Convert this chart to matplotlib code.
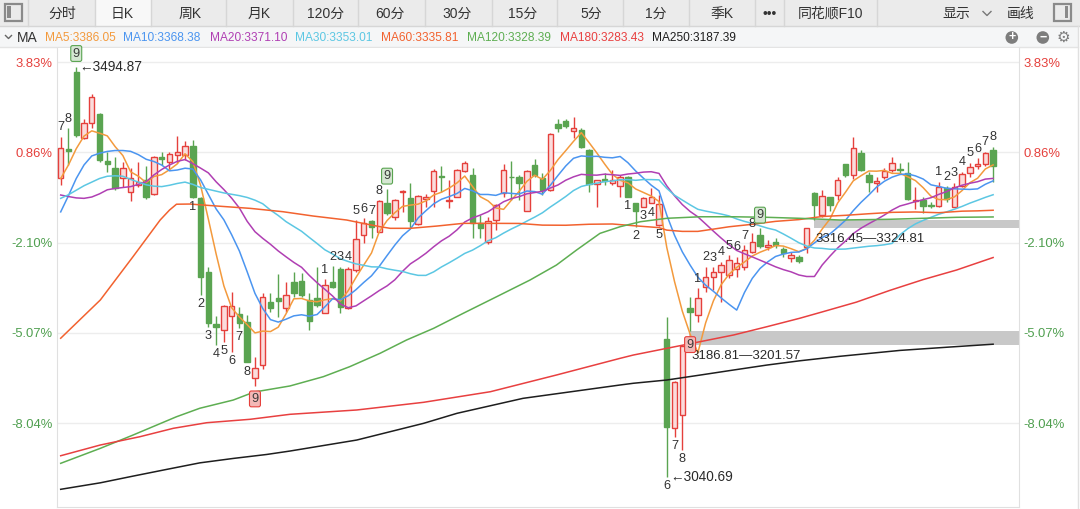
import matplotlib
matplotlib.use("Agg")
import matplotlib.pyplot as plt
from matplotlib.patches import Rectangle, Circle

plt.rcParams['font.family'] = ['Liberation Sans', 'Noto Sans CJK SC', 'DejaVu Sans']

# ---- daily candles ----
opens = [3371.2, 3403.3, 3489.5, 3415.5, 3432.1, 3442.4, 3390.7, 3382.3, 3371.2, 3355.7,
         3363.8, 3369.3, 3353.5, 3395.1, 3389.6, 3397.0, 3397.0, 3407.0, 3349.4, 3267.7,
         3209.8, 3203.1, 3218.6, 3220.5, 3212.3, 3149.6, 3164.3, 3234.5, 3238.9, 3227.1,
         3256.0, 3257.4, 3236.4, 3238.2, 3222.3, 3256.6, 3270.4, 3227.1, 3269.6, 3308.4,
         3323.9, 3312.0, 3343.5, 3328.0, 3355.7, 3349.7, 3320.6, 3348.3, 3357.5, 3374.1,
         3346.0, 3350.8, 3379.3, 3374.9, 3321.3, 3300.3, 3325.0, 3354.6, 3373.0, 3373.0,
         3335.3, 3385.9, 3371.2, 3358.2, 3431.0, 3434.7, 3423.9, 3424.7, 3402.6, 3364.9,
         3370.1, 3365.7, 3362.7, 3373.0, 3343.5, 3339.7, 3344.2, 3319.4, 3193.1, 3094.2,
         3108.9, 3227.8, 3219.7, 3251.1, 3261.5, 3267.7, 3264.1, 3270.7, 3273.2, 3289.9,
         3308.4, 3294.7, 3301.0, 3292.5, 3282.6, 3284.3, 3294.7, 3354.6, 3330.5, 3350.1,
         3352.7, 3386.7, 3374.9, 3398.9, 3374.9, 3365.7, 3372.3, 3380.4, 3381.2, 3376.7,
         3346.0, 3347.2, 3341.6, 3340.5, 3360.1, 3339.7, 3363.0, 3377.4, 3385.2, 3387.0,
         3402.6]
highs = [3417.3, 3426.6, 3494.87, 3436.9, 3464.3, 3443.5, 3400.7, 3395.1, 3389.6, 3382.3,
         3389.6, 3384.8, 3395.9, 3400.7, 3400.7, 3418.1, 3412.5, 3413.6, 3350.5, 3272.9,
         3218.6, 3230.5, 3245.5, 3228.3, 3219.7, 3172.9, 3244.4, 3244.1, 3265.2, 3256.6,
         3267.7, 3265.9, 3244.1, 3273.2, 3259.3, 3274.0, 3273.2, 3273.2, 3325.0, 3326.9,
         3324.5, 3347.2, 3359.0, 3348.3, 3358.2, 3365.7, 3352.7, 3353.5, 3381.2, 3384.8,
         3369.3, 3381.5, 3390.4, 3382.9, 3330.5, 3328.6, 3342.7, 3387.0, 3390.4, 3374.9,
         3380.4, 3392.2, 3376.7, 3421.4, 3436.6, 3436.6, 3439.4, 3426.6, 3403.7, 3369.8,
         3376.7, 3380.4, 3374.9, 3374.0, 3343.8, 3350.5, 3360.1, 3352.7, 3217.2, 3146.6,
         3186.81, 3240.0, 3249.3, 3273.2, 3272.6, 3278.8, 3286.2, 3284.3, 3297.3, 3310.3,
         3315.8, 3302.8, 3305.0, 3295.4, 3289.9, 3286.2, 3316.45, 3356.4, 3358.2, 3350.5,
         3372.3, 3387.0, 3417.3, 3402.6, 3378.5, 3373.0, 3382.3, 3394.5, 3387.8, 3389.6,
         3361.9, 3350.8, 3345.3, 3367.4, 3362.7, 3366.3, 3378.5, 3388.5, 3393.4, 3400.7,
         3406.2]
lows = [3363.8, 3385.9, 3417.3, 3414.7, 3426.6, 3389.3, 3378.5, 3358.2, 3361.9, 3346.4,
        3361.9, 3347.9, 3352.7, 3385.9, 3380.4, 3387.8, 3391.5, 3349.4, 3241.9, 3206.4,
        3186.5, 3190.2, 3178.7, 3205.7, 3167.6, 3141.4, 3159.6, 3223.4, 3217.5, 3223.4,
        3240.0, 3239.7, 3203.1, 3228.9, 3221.6, 3249.3, 3221.6, 3226.4, 3267.7, 3299.2,
        3304.7, 3311.7, 3330.5, 3325.0, 3334.2, 3315.8, 3319.4, 3339.1, 3339.1, 3356.4,
        3338.0, 3350.5, 3378.2, 3304.7, 3304.7, 3298.4, 3313.9, 3350.8, 3347.2, 3347.2,
        3334.9, 3373.0, 3352.7, 3357.1, 3422.8, 3427.3, 3415.5, 3404.4, 3356.4, 3339.7,
        3363.8, 3363.8, 3350.8, 3350.5, 3317.6, 3339.4, 3343.5, 3318.9, 3040.69, 3084.9,
        3070.2, 3201.57, 3211.6, 3245.5, 3247.4, 3234.5, 3260.4, 3262.2, 3269.6, 3288.1,
        3293.6, 3291.8, 3294.0, 3284.3, 3278.8, 3277.0, 3288.1, 3324.81, 3328.6, 3335.3,
        3347.2, 3373.0, 3370.1, 3379.6, 3356.4, 3356.4, 3370.1, 3378.5, 3376.7, 3347.2,
        3336.9, 3333.1, 3338.0, 3339.7, 3345.3, 3339.4, 3361.9, 3372.3, 3381.2, 3384.8,
        3367.4]
closes = [3404.4, 3401.8, 3419.2, 3432.1, 3461.6, 3391.5, 3386.7, 3360.1, 3382.3, 3371.2,
          3367.4, 3350.8, 3394.5, 3392.6, 3398.1, 3400.0, 3407.0, 3350.8, 3262.2, 3210.5,
          3206.8, 3229.7, 3229.7, 3211.2, 3168.0, 3160.7, 3240.0, 3227.1, 3235.6, 3241.9,
          3243.8, 3241.9, 3213.4, 3230.8, 3253.0, 3250.4, 3228.9, 3270.4, 3303.6, 3322.0,
          3317.6, 3346.4, 3332.4, 3347.2, 3357.1, 3324.2, 3351.9, 3350.8, 3379.3, 3373.0,
          3347.2, 3380.4, 3388.5, 3321.3, 3316.5, 3324.2, 3341.6, 3380.4, 3372.3, 3365.7,
          3379.6, 3374.9, 3358.2, 3420.3, 3426.6, 3429.5, 3426.6, 3406.2, 3364.9, 3369.3,
          3368.5, 3369.3, 3373.0, 3350.8, 3335.3, 3349.0, 3350.1, 3342.4, 3096.0, 3145.8,
          3185.5, 3223.4, 3238.2, 3262.2, 3267.7, 3275.1, 3280.7, 3277.0, 3291.8, 3301.0,
          3296.2, 3297.3, 3297.3, 3288.8, 3286.2, 3279.9, 3315.8, 3341.6, 3351.6, 3341.6,
          3369.3, 3374.9, 3404.4, 3380.4, 3367.4, 3368.2, 3379.6, 3387.8, 3380.4, 3348.3,
          3347.2, 3340.5, 3340.5, 3361.9, 3347.9, 3361.9, 3376.0, 3384.0, 3386.7, 3399.6,
          3384.8]

# ---- moving average lines ----
ma5_days = list(range(121))
ma5_vals = [3371.0, 3386.0, 3404.0, 3418.0, 3423.8, 3421.2, 3418.2, 3406.4, 3396.4, 3378.4,
            3373.5, 3366.4, 3373.2, 3375.3, 3380.7, 3387.2, 3398.4, 3389.7, 3363.6, 3326.1,
            3287.5, 3252.0, 3227.8, 3217.6, 3209.1, 3199.9, 3201.9, 3201.4, 3206.3, 3221.1,
            3237.7, 3238.1, 3235.3, 3234.4, 3236.6, 3237.9, 3235.3, 3246.7, 3261.3, 3275.1,
            3288.5, 3312.0, 3324.4, 3333.1, 3340.1, 3341.5, 3342.6, 3346.2, 3352.7, 3355.8,
            3360.4, 3366.1, 3373.7, 3362.1, 3350.8, 3346.2, 3338.4, 3336.8, 3347.0, 3356.8,
            3367.9, 3374.6, 3370.1, 3379.7, 3391.9, 3401.9, 3412.2, 3421.8, 3410.8, 3399.3,
            3387.1, 3375.6, 3369.0, 3366.2, 3359.4, 3355.5, 3351.6, 3345.5, 3294.6, 3256.7,
            3224.0, 3198.6, 3177.8, 3211.0, 3235.4, 3253.3, 3264.8, 3272.5, 3278.5, 3285.1,
            3289.3, 3292.7, 3296.7, 3296.1, 3293.2, 3289.9, 3293.6, 3302.5, 3315.0, 3326.1,
            3344.0, 3355.8, 3368.4, 3374.1, 3379.3, 3379.1, 3380.0, 3376.7, 3376.7, 3372.9,
            3368.7, 3360.8, 3351.4, 3347.7, 3347.6, 3350.5, 3357.6, 3366.3, 3371.3, 3381.6,
            3386.05]
ma10_days = list(range(121))
ma10_vals = [3334.0, 3352.0, 3371.0, 3386.0, 3396.0, 3399.0, 3401.0, 3402.0, 3402.0, 3401.1,
             3397.4, 3392.3, 3389.8, 3385.9, 3379.5, 3380.4, 3382.4, 3381.5, 3369.5, 3353.4,
             3337.3, 3325.2, 3308.7, 3290.6, 3267.6, 3243.7, 3227.0, 3214.6, 3211.9, 3215.1,
             3218.8, 3220.0, 3218.4, 3220.3, 3228.8, 3237.8, 3236.7, 3241.0, 3247.8, 3255.8,
             3263.2, 3273.7, 3285.6, 3297.2, 3307.6, 3315.0, 3327.3, 3335.3, 3342.9, 3348.0,
             3351.0, 3354.4, 3360.0, 3357.4, 3353.3, 3353.3, 3352.3, 3355.2, 3354.5, 3353.8,
             3357.1, 3356.5, 3353.5, 3363.4, 3374.4, 3384.9, 3393.4, 3396.0, 3395.3, 3395.6,
             3394.5, 3393.9, 3395.4, 3388.5, 3379.3, 3371.3, 3363.6, 3357.3, 3330.4, 3308.0,
             3289.7, 3275.1, 3261.7, 3252.8, 3246.0, 3238.6, 3231.7, 3225.2, 3244.7, 3260.3,
             3271.3, 3278.7, 3284.6, 3287.3, 3289.1, 3289.6, 3293.1, 3299.6, 3305.6, 3309.6,
             3316.9, 3324.7, 3335.4, 3344.6, 3352.7, 3361.5, 3367.9, 3372.5, 3375.4, 3376.1,
             3373.9, 3370.4, 3364.0, 3362.2, 3360.2, 3359.6, 3359.2, 3358.9, 3359.5, 3364.6,
             3368.38]
ma20_days = list(range(121))
ma20_vals = [3352.7, 3351.0, 3349.5, 3349.0, 3350.5, 3354.0, 3358.5, 3360.0, 3361.0, 3362.0,
             3364.5, 3367.4, 3375.0, 3381.0, 3386.0, 3390.0, 3392.0, 3387.5, 3382.5, 3377.25,
             3367.35, 3358.75, 3349.25, 3338.25, 3323.55, 3312.05, 3304.7, 3298.05, 3290.7, 3284.25,
             3278.05, 3272.6, 3263.55, 3255.45, 3248.2, 3240.75, 3231.85, 3227.8, 3229.85, 3235.45,
             3241.0, 3246.85, 3252.0, 3258.75, 3268.2, 3276.4, 3282.0, 3288.15, 3295.35, 3301.9,
             3307.1, 3314.05, 3322.8, 3327.3, 3330.45, 3334.15, 3339.8, 3345.25, 3348.7, 3350.9,
             3354.05, 3355.45, 3356.75, 3360.4, 3363.85, 3369.1, 3372.85, 3375.6, 3374.9, 3374.7,
             3375.8, 3375.2, 3374.45, 3375.95, 3376.85, 3378.1, 3378.5, 3376.65, 3362.85, 3351.8,
             3342.1, 3334.5, 3328.55, 3320.65, 3312.65, 3304.95, 3297.65, 3291.25, 3287.55, 3284.15,
             3280.5, 3276.9, 3273.15, 3270.05, 3267.55, 3264.1, 3262.4, 3262.4, 3275.15, 3284.95,
             3294.1, 3301.7, 3310.0, 3315.95, 3320.9, 3325.55, 3330.5, 3336.05, 3340.5, 3342.85,
             3345.4, 3347.55, 3349.7, 3353.4, 3356.45, 3360.55, 3363.55, 3365.7, 3367.45, 3370.35,
             3371.10]
ma30_days = list(range(121))
ma30_vals = [3349.0, 3353.0, 3358.0, 3363.0, 3367.0, 3371.0, 3373.5, 3374.0, 3373.5, 3370.0,
             3367.0, 3364.0, 3362.5, 3362.0, 3363.5, 3365.5, 3367.0, 3364.5, 3361.0, 3359.0,
             3357.0, 3355.0, 3353.5, 3352.0, 3350.0, 3347.0, 3343.0, 3336.0, 3330.0, 3323.2,
             3317.83, 3312.5, 3305.63, 3298.93, 3291.97, 3287.3, 3282.03, 3279.03, 3276.4, 3274.77,
             3273.1, 3272.97, 3270.9, 3269.37, 3268.0, 3265.5, 3263.67, 3263.63, 3267.53, 3272.97,
             3277.67, 3282.7, 3288.0, 3291.63, 3296.57, 3302.03, 3305.43, 3310.5, 3315.07, 3319.2,
             3323.77, 3328.2, 3333.03, 3339.33, 3345.1, 3351.07, 3357.67, 3362.17, 3364.23, 3365.8,
             3367.53, 3368.27, 3369.63, 3369.77, 3369.0, 3369.83, 3369.77, 3369.5, 3360.07, 3352.47,
             3347.1, 3341.83, 3336.87, 3334.9, 3333.23, 3331.6, 3329.57, 3326.17, 3323.47, 3321.3,
             3318.5, 3315.9, 3313.9, 3309.53, 3304.8, 3299.83, 3296.13, 3294.03, 3293.57, 3292.63,
             3292.63, 3292.83, 3293.9, 3294.9, 3295.93, 3296.57, 3297.57, 3299.1, 3308.57, 3315.33,
             3320.7, 3324.6, 3328.0, 3331.37, 3334.0, 3336.9, 3340.07, 3343.67, 3346.83, 3350.1,
             3353.01]
ma60_days = [0, 5.1, 9.3, 12.8, 14.0, 14.9, 16.6, 20.1, 24.4, 28.6, 32.5, 36.8, 38.9, 41.1,
             42.4, 45.0, 48.4, 51.8, 55.3, 59, 62, 65, 68, 71, 74, 77, 78, 80, 82, 84, 86, 89,
             92, 95, 98, 101, 104, 107, 110, 113, 116, 118, 120]
ma60_vals = [3194.0, 3236.4, 3284.3, 3325.0, 3336.0, 3342.5, 3342.7, 3340.5, 3337.9, 3334.2,
             3329.4, 3325.0, 3321.3, 3317.6, 3315.8, 3315.8, 3318.3, 3321.3, 3321.3, 3321.2,
             3319.33, 3319.19, 3320.3, 3320.6, 3318.5, 3316.57, 3313.8, 3312.4, 3312.4, 3314.9,
             3317.5, 3320.25, 3323.5, 3325.45, 3328.9, 3330.2, 3331.95, 3333.5, 3333.9, 3333.1,
             3334.8, 3335.15, 3335.81]
ma120_days = [0, 5.1, 9.3, 14.9, 17.9, 22.2, 24.9, 29.5, 33.8, 37.2, 41.1, 44.5, 48.0, 51.8,
              56.1, 60.4, 63.8, 66.4, 69.4, 72.0, 74.6, 78.0, 82.3, 86.6, 90.9, 95.1, 100.3,
              106.7, 111.0, 115.3, 120]
ma120_vals = [3055.4, 3072.0, 3086.7, 3107.0, 3116.4, 3125.5, 3134.4, 3141.1, 3151.4, 3162.5,
              3177.3, 3192.0, 3205.0, 3221.6, 3240.0, 3258.5, 3275.1, 3291.8, 3310.2, 3317.6,
              3323.1, 3326.9, 3328.6, 3328.6, 3328.0, 3326.9, 3325.0, 3325.8, 3326.9, 3328.0,
              3328.39]
ma180_days = [0, 5.1, 10.2, 14.5, 18.8, 24.4, 29.5, 38.1, 46.7, 55.3, 63.8, 72.0, 73.7, 78.0,
              82.3, 86.6, 90.9, 95.1, 98.1, 102.4, 106.7, 111.0, 115.3, 120]
ma180_vals = [3063.8, 3075.7, 3084.9, 3094.2, 3100.4, 3104.2, 3109.7, 3114.5, 3123.0, 3134.75,
              3153.25, 3171.75, 3175.4, 3182.8, 3190.2, 3197.6, 3206.8, 3216.1, 3223.4, 3234.0,
              3247.0, 3259.0, 3269.6, 3283.43]
ma250_days = [0, 5.1, 9.3, 13.6, 17.9, 22.2, 26.5, 29.5, 38.1, 46.7, 51.0, 59.5, 72.0, 73.7,
              78.0, 82.3, 86.6, 90.9, 95.1, 100.3, 108.0, 114.5, 120]
ma250_vals = [3026.6, 3033.8, 3041.2, 3048.6, 3055.9, 3060.8, 3065.2, 3069.0, 3081.2, 3099.7,
              3110.8, 3127.4, 3142.2, 3144.1, 3147.7, 3153.2, 3158.8, 3164.3, 3169.0, 3174.0,
              3180.5, 3184.3, 3187.39]

ma_names = ['MA5', 'MA10', 'MA20', 'MA30', 'MA60', 'MA120', 'MA180', 'MA250']
ma_last = ['3386.05', '3368.38', '3371.10', '3353.01', '3335.81', '3328.39', '3283.43', '3187.39']
ma_colors = ['#f39a3d', '#4b95f0', '#b03fb3', '#5cc7e3', '#f2622f', '#5eae52', '#e84040', '#1e1e1e']
ma_series = [(ma5_days, ma5_vals), (ma10_days, ma10_vals), (ma20_days, ma20_vals),
             (ma30_days, ma30_vals), (ma60_days, ma60_vals), (ma120_days, ma120_vals),
             (ma180_days, ma180_vals), (ma250_days, ma250_vals)]

# price levels on the axis and their % labels
ytick_prices = [3500, 3400, 3300, 3200, 3100]
ytick_labels = ['3.83%', '0.86%', '-2.10%', '-5.07%', '-8.04%']

# TD sequential counts
td_up_days = [0, 1, 2, 34, 35, 36, 37, 38, 39, 40, 41, 42,
              82, 83, 84, 85, 86, 87, 88, 89, 90, 113, 114, 115, 116, 117, 118, 119, 120]
td_up_nums = ['7', '8', '9', '1', '2', '3', '4', '5', '6', '7', '8', '9',
              '1', '2', '3', '4', '5', '6', '7', '8', '9', '1', '2', '3', '4', '5', '6', '7', '8']
td_dn_days = [17, 18, 19, 20, 21, 22, 23, 24, 25, 73, 74, 75, 76, 77, 78, 79, 80, 81]
td_dn_nums = ['1', '2', '3', '4', '5', '6', '7', '8', '9', '1', '2', '3', '4', '5', '6', '7', '8', '9']

# gaps (gray bands)
gap_days = [81, 97]
gap_lo = [3186.81, 3316.45]
gap_hi = [3201.57, 3324.81]

hi_day, hi_val = 2, 3494.87
lo_day, lo_val = 78, 3040.69

RED = '#e5403c'
RED_FILL = '#fbdcdc'
GREEN = '#5aa451'
TXT = '#2a2a2a'

fig = plt.figure(figsize=(10.8, 5.09), dpi=100)
fig.patch.set_facecolor('white')

# background layer in pixel coordinates (header, legend row)
bg = fig.add_axes([0, 0, 1, 1])
bg.set_xlim(0, 1080)
bg.set_ylim(509, 0)
bg.axis('off')

bg.add_patch(Rectangle((0, 0), 1080, 26, fc='#ebebeb', ec='none'))
bg.add_patch(Rectangle((94.7, 0), 55.8, 26, fc='#f8f8f8', ec='none'))
for sx in [28.2, 94.7, 150.5, 225.5, 292.7, 358.1, 425.3, 492.4, 556.5, 622.6, 688.8, 755.2, 783.8, 876.8]:
    bg.plot([sx, sx], [0, 26], color='#d6d6d6', lw=1)
bg.plot([0, 1080], [26, 26], color='#d6d6d6', lw=1)

tabs = ['分时', '日K', '周K', '月K', '120分', '60分', '30分', '15分', '5分', '1分', '季K', '•••', '同花顺F10']
tab_x = [62, 122.6, 190, 259, 325.4, 390, 457, 523, 591, 656, 722, 769.5, 830.3]
for t, tx in zip(tabs, tab_x):
    bg.text(tx, 13.5, t, ha='center', va='center', fontsize=10, color='#333333')
bg.text(956, 13.5, '显示', ha='center', va='center', fontsize=10, color='#333333')
bg.plot([983, 987, 991], [11.5, 15.5, 11.5], color='#777777', lw=1)
bg.text(1021, 13.5, '画线', ha='center', va='center', fontsize=10, color='#333333')

# sidebar icons
bg.add_patch(Rectangle((4.5, 3.5), 17, 17, fill=False, ec='#8a8a8a', lw=1.6))
bg.add_patch(Rectangle((7, 6), 3.5, 12, fc='#8a8a8a', ec='none'))
bg.add_patch(Rectangle((1053.5, 3.5), 17, 17, fill=False, ec='#8a8a8a', lw=1.6))
bg.add_patch(Rectangle((1064.5, 6), 3.5, 12, fc='#8a8a8a', ec='none'))

# legend row
bg.add_patch(Rectangle((0, 26.5), 1078, 20.5, fc='#f5f6f7', ec='none'))
bg.plot([0, 1078], [47, 47], color='#e4e4e4', lw=1)
bg.plot([1078, 1078], [26, 509], color='#e0e0e0', lw=1)
bg.plot([5.5, 8.5, 11.5], [35.5, 38.5, 35.5], color='#666666', lw=1)
bg.text(16.5, 37.5, 'MA', ha='left', va='center', fontsize=10, color='#333333')
leg_x = [44.8, 123.3, 210, 295, 380.5, 466.6, 560, 652]
for nm, val, col, lx in zip(ma_names, ma_last, ma_colors, leg_x):
    bg.text(lx, 37.5, f'{nm}:{val}', ha='left', va='center', fontsize=8.6, color=col)
for cx, sym in [(1011.8, '+'), (1042.8, '−')]:
    bg.add_patch(Circle((cx, 37.5), 6.3, fc='#7d7d7d', ec='none'))
    bg.text(cx, 37.2, sym, ha='center', va='center', fontsize=9, color='white', fontweight='bold')
bg.text(1063.4, 37.5, '⚙', ha='center', va='center', fontsize=11, color='#7d7d7d', family='DejaVu Sans')

# main price panel
ax = fig.add_axes([57 / 1080, 2 / 509, 962 / 1080, 459 / 509])
ax.set_xlim(-0.476, 123.33)
ax.set_ylim(3007.0, 3515.6)
ax.set_facecolor('white')

for i in range(len(opens)):
    o, h, l, c = opens[i], highs[i], lows[i], closes[i]
    up = c >= o
    col = RED if up else GREEN
    ax.vlines(i, l, h, color=col, lw=1.0, zorder=2)
    ax.add_patch(Rectangle((i - 0.35, min(o, c)), 0.7, max(abs(c - o), 0.8),
                           fc=RED_FILL if up else GREEN, ec=col, lw=1.0, zorder=3))

for (d, v), col in zip(ma_series, ma_colors):
    ax.plot(d, v, color=col, lw=1.1, zorder=4)

for d, lo, hi in zip(gap_days, gap_lo, gap_hi):
    ax.fill_between([d - 0.1, 123.33], lo, hi, color='#c8c8c8', lw=0, zorder=1.5)
    ax.annotate(f'{lo:.2f}—{hi:.2f}', xy=(d - 0.1, lo), xytext=(1.5, -7.8),
                textcoords='offset points', ha='left', va='center', fontsize=9.5, color=TXT, zorder=6)

ax.annotate(f'←{hi_val:.2f}', xy=(hi_day, hi_val), xytext=(2.5, 0), textcoords='offset points',
            ha='left', va='center', fontsize=9.8, color=TXT, zorder=6)
ax.annotate(f'←{lo_val:.2f}', xy=(lo_day, lo_val), xytext=(2.5, 0), textcoords='offset points',
            ha='left', va='center', fontsize=9.8, color=TXT, zorder=6)

for d, n in zip(td_up_days, td_up_nums):
    if n == '9':
        ax.annotate(n, xy=(d, highs[d]), xytext=(0, 9.5), textcoords='offset points', ha='center',
                    va='center', fontsize=9.2, color='#3a3a3a', zorder=6,
                    bbox=dict(boxstyle='round,pad=0.15', fc='#d5e6d2', ec=GREEN, lw=0.8))
    else:
        ax.annotate(n, xy=(d, highs[d]), xytext=(0, 6.8), textcoords='offset points', ha='center',
                    va='center', fontsize=9.2, color='#333333', zorder=6)
for d, n in zip(td_dn_days, td_dn_nums):
    if n == '9':
        ax.annotate(n, xy=(d, lows[d]), xytext=(0, -9.5), textcoords='offset points', ha='center',
                    va='center', fontsize=9.2, color='#3a3a3a', zorder=6,
                    bbox=dict(boxstyle='round,pad=0.15', fc='#f3b8b6', ec=RED, lw=0.8))
    else:
        ax.annotate(n, xy=(d, lows[d]), xytext=(0, -6.8), textcoords='offset points', ha='center',
                    va='center', fontsize=9.2, color='#333333', zorder=6)

ax.set_xticks([])
ax.set_yticks(ytick_prices)
ax.set_yticklabels(ytick_labels)
ax.tick_params(axis='y', length=0, labelsize=9.4, labelleft=True, labelright=True, pad=3)
for tk, lab in zip(ax.yaxis.get_major_ticks(), ytick_labels):
    c = '#4f9f4f' if lab.startswith('-') else '#e5403c'
    tk.label1.set_color(c)
    tk.label2.set_color(c)
ax.yaxis.grid(True, color='#ededed', lw=1.0)
ax.set_axisbelow(True)
for side in ['left', 'right', 'bottom']:
    ax.spines[side].set_color('#e0e0e0')
ax.spines['top'].set_visible(False)

fig.savefig('out.png', dpi=100)
